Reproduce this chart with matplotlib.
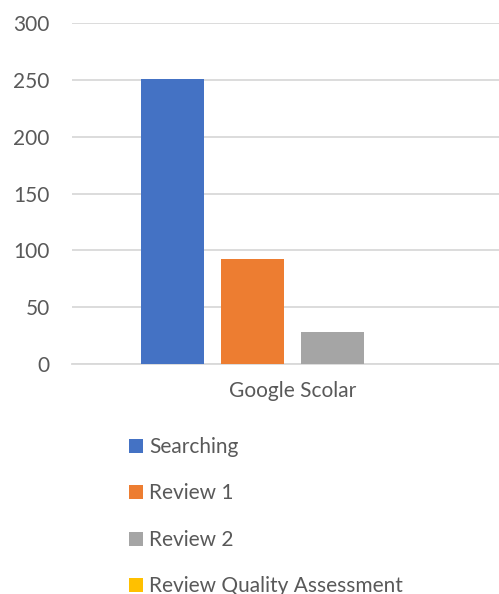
import matplotlib
matplotlib.use('Agg')
from matplotlib import pyplot as plt

# 数据
category = 'Google Scolar'
seriesNames = ['Searching', 'Review 1', 'Review 2', 'Review Quality Assessment']
seriesValues = [251, 92, 28, 0]
seriesColors = ['#4472C4', '#ED7D31', '#A5A5A5', '#FFC000']
yTicks = [0, 50, 100, 150, 200, 250, 300]

plt.rcParams['font.family'] = ['Lato', 'DejaVu Sans']
textColor = '#595959'
gridColor = '#D9D9D9'
fontSize = 15

W, H = 499, 594
fig = plt.figure(figsize=(W / 100, H / 100), dpi=100)
left, right, top, bottom = 72, 499, 23, 364    # 绘图区像素位置
ax = fig.add_axes([left / W, 1 - bottom / H, (right - left) / W, (bottom - top) / H])

step, width = 80, 63    # 柱间距与柱宽（像素）
firstCenter = 172.5
for i, (name, value, color) in enumerate(zip(seriesNames, seriesValues, seriesColors)):
    ax.bar(i, value, width=width / step, color=color, label=name, zorder=3)

ax.set_xlim((left - firstCenter) / step, (right - firstCenter) / step)
ax.set_ylim(0, 300)
ax.set_yticks(yTicks)
ax.set_xticks([(len(seriesNames) - 1) / 2])
ax.set_xticklabels([category])
ax.tick_params(axis='both', length=0, labelsize=fontSize, colors=textColor)
ax.tick_params(axis='y', pad=16)
ax.tick_params(axis='x', pad=12)
ax.yaxis.grid(True, color=gridColor, linewidth=1.3, zorder=0)
for side in ['top', 'right', 'left']:
    ax.spines[side].set_visible(False)
ax.spines['bottom'].set_color(gridColor)
ax.spines['bottom'].set_linewidth(1.3)

handles, labels = ax.get_legend_handles_labels()
leg = fig.legend(handles, labels, loc='upper left', bbox_to_anchor=(129 / W, 1 - 437 / H),
                 frameon=False, fontsize=fontSize, labelspacing=1.27, handlelength=0.67,
                 handleheight=0.67, handletextpad=0.3, borderpad=0, borderaxespad=0)
for t in leg.get_texts():
    t.set_color(textColor)

fig.savefig('out.png', dpi=100)
